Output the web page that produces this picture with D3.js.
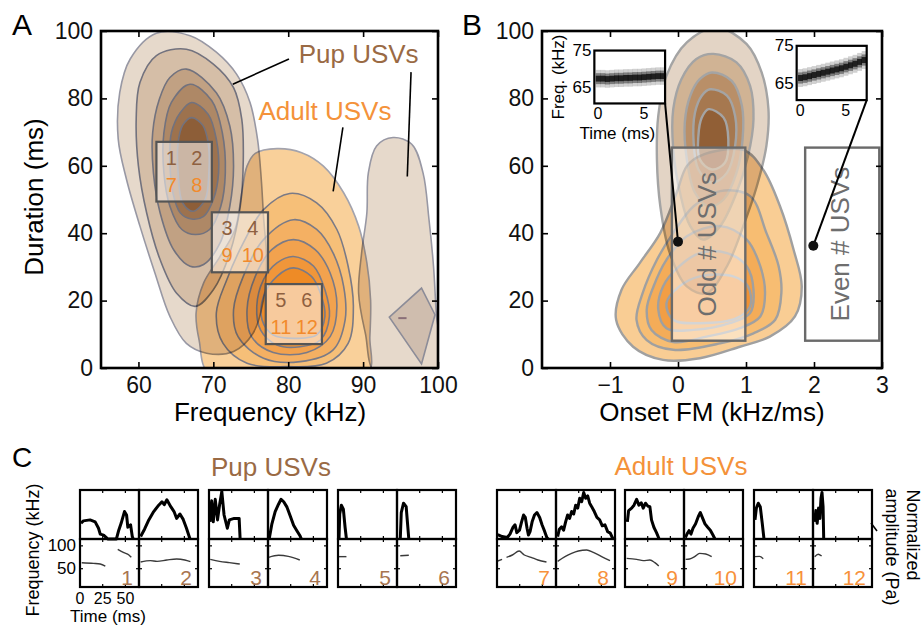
<!DOCTYPE html>
<html>
<head>
<meta charset="utf-8">
<script src="https://cdn.jsdelivr.net/npm/d3@7/dist/d3.min.js"></script>
<style>
  html,body{margin:0;padding:0;background:#fff;}
  svg{display:block;font-family:"Liberation Sans",Arial,Helvetica,sans-serif;}
</style>
</head>
<body>
<svg id="fig" width="922" height="627"></svg>
<script>
// ================= DATA =================
// Panel A: density contours, [frequency (kHz), duration (ms)], outermost level first
const pupContoursA = [
  [[62.4,99.3],[66.9,98.6],[70.4,93.7],[73.1,87.2],[74.9,78.8],[75.9,67.9],[76.4,56.0],[76.7,45.0],[77.1,32.1],[76.7,20.2],[75.3,10.3],[72.7,4.9],[69.1,4.4],[66.4,7.3],[64.2,15.3],[62.2,28.2],[60.2,42.1],[58.4,56.0],[57.3,67.9],[57.5,81.7],[58.9,91.7]],
  [[62.4,92.7],[66.4,94.6],[70.0,90.2],[72.7,83.2],[73.8,73.8],[74.0,61.9],[73.6,48.0],[72.2,34.1],[70.0,23.2],[67.6,18.3],[65.1,22.2],[62.9,32.1],[61.1,46.0],[60.0,59.9],[59.7,73.8],[60.2,84.7]],
  [[66.4,88.7],[70.4,81.7],[72.2,71.8],[72.7,59.9],[72.2,48.0],[70.9,37.1],[68.7,30.7],[66.9,30.2],[64.7,35.1],[62.9,46.0],[62.0,57.9],[61.9,69.8],[62.8,79.8],[64.2,86.2]],
  [[66.9,84.2],[69.8,79.3],[71.2,69.8],[71.6,57.9],[71.0,48.0],[69.5,41.1],[67.6,39.6],[65.8,41.1],[64.2,48.0],[63.4,57.9],[63.4,69.8],[64.4,78.8]],
  [[67.1,78.8],[69.3,75.3],[70.4,67.9],[70.7,57.9],[70.0,50.0],[68.7,45.0],[67.1,44.2],[65.6,46.0],[64.6,52.0],[64.2,61.9],[64.4,69.8],[65.6,75.8]],
  [[67.1,74.3],[68.6,72.0],[69.3,66.9],[69.4,57.9],[68.9,50.0],[67.3,46.5],[65.9,49.0],[65.3,57.9],[65.3,66.9],[65.9,72.0]]
];
const pupSideLobeA = [[94.0,68.4],[96.5,66.4],[98.0,57.9],[98.8,44.0],[99.4,30.2],[99.8,15.3],[100.5,-2],[91.8,-2],[90.3,10.3],[89.4,22.2],[89.8,34.1],[90.5,46.0],[90.7,57.9],[91.8,65.9]];
const pupDiamondA = [[97.8,23.7],[99.6,15.8],[97.8,1.2],[93.5,15.1]];
const pupSpotA = [[94.7,14.8],[95.8,14.8]];
const adultContoursA = [
  [[75.6,63.7],[78.5,65.1],[81.8,63.9],[84.7,59.9],[87.4,52.0],[89.4,42.1],[90.5,31.2],[91.0,20.2],[90.9,9.3],[90.5,-2],[69.6,-2],[68.1,8.3],[67.7,16.3],[68.7,25.2],[70.9,33.1],[72.9,41.1],[73.8,52.0],[74.5,59.9]],
  [[80.2,51.8],[83.8,49.0],[86.5,41.1],[88.0,30.2],[88.7,18.3],[88.0,7.3],[85.1,1.4],[79.8,0.4],[74.5,1.4],[71.3,7.3],[70.4,16.3],[71.8,26.2],[74.0,37.1],[76.7,47.0]],
  [[80.7,44.0],[83.8,41.1],[86.0,34.1],[87.4,24.2],[87.6,14.3],[86.0,5.4],[81.6,1.9],[76.7,2.9],[73.3,9.3],[72.7,17.3],[74.0,27.2],[76.7,38.1]],
  [[80.7,38.1],[83.6,35.1],[85.6,28.2],[86.5,18.3],[85.6,9.3],[82.5,4.6],[78.0,4.6],[75.1,9.3],[74.5,17.3],[75.6,27.2],[77.8,35.1]],
  [[80.7,33.1],[83.4,30.2],[84.9,23.2],[85.5,15.3],[84.3,8.3],[81.6,6.3],[78.5,6.8],[76.3,11.3],[75.8,18.3],[76.7,26.2],[78.5,31.2]],
  [[80.7,29.7],[83.1,27.2],[84.3,22.2],[84.9,15.3],[83.8,9.8],[81.1,8.8],[78.0,9.8],[76.5,14.3],[76.7,21.2],[78.5,27.2]]
];
// example-call selection boxes in A: frequency / duration extents and call numbers
const boxesA = [
  {f0:62.4, f1:69.8, d0:49.4, d1:67.1, pup:["1","2"], adult:["7","8"]},
  {f0:69.8, f1:77.3, d0:28.4, d1:46.2, pup:["3","4"], adult:["9","10"]},
  {f0:77.0, f1:84.5, d0:7.1,  d1:24.9, pup:["5","6"], adult:["11","12"]}
];
const labelsA = [
  {text:"Pup USVs",   f:89.4, d:90.6, who:"pup"},
  {text:"Adult USVs", f:84.9, d:73.6, who:"adult"}
];
const calloutsA = [
  [[80.1,91.7],[72.6,84.2]],
  [[96.4,87.8],[95.9,56.8]],
  [[87.3,71.4],[86.0,52.4]]
];
const xTicksA = [60,70,80,90,100];
const yTicks  = [0,20,40,60,80,100];

// Panel B: density contours, [onset FM (kHz/ms), duration (ms)]
const pupContoursB = [
  [[0.57,101],[1.01,96.1],[1.23,87.7],[1.33,76.8],[1.30,65.9],[1.16,54.0],[0.96,42.1],[0.72,30.2],[0.42,22.2],[0.13,24.2],[-0.12,34.1],[-0.26,48.0],[-0.31,61.9],[-0.29,74.8],[-0.17,86.7],[0.13,96.6]],
  [[0.52,93.2],[0.86,90.7],[1.06,83.7],[1.11,73.8],[1.03,62.9],[0.86,52.0],[0.62,42.1],[0.37,38.1],[0.18,42.1],[0.03,52.0],[-0.07,64.9],[-0.07,76.8],[0.05,85.7],[0.27,91.7]],
  [[0.50,87.7],[0.79,85.2],[0.94,77.8],[0.95,67.9],[0.86,57.9],[0.67,50.0],[0.45,48.0],[0.25,52.0],[0.13,61.9],[0.10,72.8],[0.18,80.8],[0.32,85.7]],
  [[0.47,82.7],[0.72,80.8],[0.84,74.8],[0.84,65.9],[0.72,57.9],[0.50,55.0],[0.30,58.9],[0.23,66.9],[0.25,75.8],[0.35,80.8]],
  [[0.45,76.8],[0.67,74.3],[0.74,67.9],[0.69,60.9],[0.50,58.9],[0.32,61.9],[0.30,68.9],[0.35,74.3]]
];
const adultContoursB = [
  [[0.32,62.9],[0.96,64.7],[1.25,58.9],[1.50,48.0],[1.70,35.1],[1.82,24.2],[1.72,15.3],[1.35,9.3],[0.91,6.3],[0.32,2.9],[-0.22,2.4],[-0.66,6.3],[-0.91,14.3],[-0.83,23.2],[-0.56,31.2],[-0.26,40.1],[-0.02,52.0],[0.13,59.9]],
  [[0.62,52.5],[1.06,51.0],[1.30,40.1],[1.48,30.2],[1.52,22.2],[1.43,14.3],[1.11,10.3],[0.62,7.3],[-0.07,5.4],[-0.46,8.3],[-0.61,14.3],[-0.52,22.2],[-0.31,32.1],[-0.07,40.1],[0.23,48.0]],
  [[0.62,42.1],[1.01,38.1],[1.21,30.2],[1.28,22.2],[1.21,15.3],[0.91,11.8],[0.42,9.3],[-0.07,7.7],[-0.39,11.3],[-0.46,17.3],[-0.36,24.2],[-0.17,32.1],[0.13,39.1]],
  [[0.72,34.1],[1.01,30.2],[1.11,23.2],[1.06,16.3],[0.76,13.3],[0.23,11.3],[-0.17,11.8],[-0.29,17.3],[-0.22,24.2],[0.02,30.2],[0.32,34.1]],
  [[0.81,27.2],[1.03,24.2],[1.06,18.3],[0.86,14.8],[0.32,13.3],[-0.07,14.3],[-0.17,19.2],[0.02,24.2],[0.32,27.2]]
];
const xTicksB = [-1,0,1,2,3];
const groupBoxesB = [
  {text:"Odd # USVs",  fm0:-0.09, fm1:0.99, d0:8.1, d1:65.4, dot:[0.0,37.5],  inset:{fm0:-1.23, fm1:-0.19, d0:78.5, d1:94.2}, axisTitles:true},
  {text:"Even # USVs", fm0:1.87,  fm1:2.96, d0:8.1, d1:65.4, dot:[1.99,36.3], inset:{fm0:1.745, fm1:2.775, d0:79.5, d1:95.6}, axisTitles:false}
];
// inset spectrogram ridges: time (ms) and peak frequency (kHz)
const insetTime     = [0,0.5,1,1.5,2,2.5,3,3.5,4,4.5,5,5.5,6,6.5,7];
const insetFreqOdd  = [67.3,67.3,67.2,67.3,67.4,67.4,67.5,67.5,67.6,67.6,67.7,67.8,67.9,68.0,68.0];
const insetFreqEven = [66.4,66.6,66.9,67.2,67.5,67.8,68.1,68.4,68.7,69.0,69.4,69.8,70.2,70.7,71.2];
const insetFreqTicks = [65,75];
const insetTimeTicks = [0,5];

// Panel C: example calls. amp = [time ms, normalized amplitude]; freq = segments of [time ms, kHz]
const pupCalls = [
  {n:"1", amp:[[1.1,0.32],[3.7,0.37],[11.1,0.39],[16.7,0.35],[20.4,0.22],[22.3,0.10],[26.0,0.08],[29.0,0.03],[30.5,0],[40.1,0],[42.7,0.18],[45.3,0.32],[49.0,0.56],[51.3,0.49],[52.7,0.24],[55.7,0.29],[57.6,0.05],[58.7,0]],
   freq:[[[1.9,63.2],[14.9,61.7],[22.3,60.3],[27.9,55.9]],[[41.6,92.4],[48.3,85.1],[53.9,80.0],[56.5,74.9]]]},
  {n:"2", amp:[[1.8,0.05],[6.1,0.20],[10.8,0.39],[16.2,0.56],[21.7,0.69],[25.3,0.76],[27.8,0.70],[30.7,0.80],[35.0,0.66],[38.6,0.56],[41.5,0.42],[45.1,0.51],[48.7,0.40],[52.3,0.22],[56.0,0.01]],
   freq:[[[1.8,64.7],[12.6,67.6],[19.9,66.1],[30.7,69.1],[41.5,71.3],[50.5,69.1],[56.7,65.4]]]},
  {n:"3", amp:[[1.1,0.35],[2.9,0.78],[4.7,0.35],[6.9,0.81],[9.4,0.39],[11.6,0.69],[14.1,0.97],[16.6,0.49],[20.2,0.22],[22.4,0.39],[27.8,0.42],[33.2,0.42],[34.3,0]],
   freq:[[[1.4,70.5],[11.6,66.1],[22.4,63.2],[33.9,60.3]]]},
  {n:"4", amp:[[1.4,0.01],[4.3,0.31],[7.9,0.56],[11.6,0.71],[14.4,0.81],[17.3,0.76],[20.9,0.65],[24.5,0.47],[28.2,0.28],[31.8,0.17],[35.4,0.06],[36.8,0]],
   freq:[[[0.7,74.9],[11.6,79.3],[22.4,77.1],[35.0,69.1]]]},
  {n:"5", amp:[[1.1,0],[1.9,0.51],[3.7,0.69],[5.9,0.61],[7.8,0.24],[9.3,0]],
   freq:[[[1.1,76.4],[9.3,76.4]]]},
  {n:"6", amp:[[3.6,0],[4.7,0.54],[7.2,0.73],[10.1,0.66],[11.6,0.32],[13.0,0]],
   freq:[[[3.6,78.5],[13.0,79.5]]]}
];
const adultCalls = [
  {n:"7", amp:[[0.8,0.09],[5.6,0.05],[11.3,0.03],[14.3,0.10],[17.7,0.24],[19.9,0.29],[21.8,0.13],[24.8,0.18],[27.1,0.35],[29.3,0.49],[31.2,0.44],[33.1,0.22],[34.6,0.08],[36.4,0.15],[38.7,0.35],[41.3,0.49],[44.0,0.54],[47.0,0.44],[49.6,0.29],[52.6,0.15],[54.9,0.03],[56.4,0]],
   freq:[[[0.8,66.9],[5.6,70.5]],[[10.5,74.9],[16.9,80.0],[24.4,88.8],[30.1,80.0],[37.6,74.9],[45.1,69.1],[54.5,64.7]]]},
  {n:"8", amp:[[1.8,0.05],[3.7,0.20],[6.2,0.25],[8.4,0.18],[10.6,0.35],[12.8,0.49],[15.0,0.42],[17.2,0.56],[19.5,0.51],[21.7,0.69],[23.9,0.63],[26.1,0.83],[28.3,0.76],[30.5,0.95],[32.7,0.83],[34.9,0.88],[37.1,0.73],[39.3,0.66],[42.2,0.56],[45.1,0.44],[48.1,0.39],[51.0,0.27],[53.9,0.29],[56.9,0.15],[59.8,0.12],[62.8,0]],
   freq:[[[1.8,66.1],[9.9,76.4],[17.2,83.6],[24.6,88.8],[33.8,90.9],[41.1,85.8],[50.3,76.4],[59.5,67.6]]]},
  {n:"9", amp:[[2.6,0.35],[4.0,0.58],[7.3,0.63],[9.9,0.69],[12.8,0.81],[15.3,0.69],[17.9,0.74],[20.1,0.63],[22.6,0.73],[25.2,0.67],[27.4,0.66],[29.2,0.39],[31.8,0.24],[34.7,0.13],[37.6,0]],
   freq:[[[1.8,72.7],[12.8,70.5],[20.1,67.6],[27.4,69.1],[32.9,63.2],[37.2,56.0]]]},
  {n:"10", amp:[[1.5,0.03],[3.3,0.10],[5.5,0.17],[7.7,0.10],[9.9,0.22],[12.8,0.31],[15.8,0.46],[18.0,0.54],[20.6,0.42],[23.1,0.31],[26.1,0.24],[29.0,0.18],[31.9,0.08],[34.1,0]],
   freq:[[[1.8,70.5],[6.2,71.3],[11.7,76.4],[17.2,83.6],[23.9,82.1],[30.5,76.4]]]},
  {n:"11", amp:[[1.1,0.39],[2.6,0.63],[4.7,0.73],[6.9,0.66],[9.1,0.32],[11.0,0]],
   freq:[[[1.1,76.4],[6.0,77.0],[10.2,72.0]]]},
  {n:"12", amp:[[1.9,0.35],[3.1,0.58],[4.6,0.32],[6.1,0.63],[7.6,0.42],[8.8,0.83],[9.9,0.95],[11.1,0.66],[11.8,0]],
   freq:[[[1.9,76.4],[5.7,81.5],[9.5,77.8]]]}
];
const timeTicksC = [0,25,50];
const freqTicksC = [50,100];

// ================= STYLE =================
const PUP_TEXT = "#9a6a44", ADULT_TEXT = "#f4923a";
const pupFillA   = ["#e6d9cb","#d5bea7","#c1a183","#ae8866","#9d724e","#8d5e38"];
const adultFillA = ["#f9d09a","#f6bf78","#f4b063","#f2a24e","#f0963a","#ee8b26"];
const pupFillB   = ["#e3d4c5","#d0b394","#b98f68","#a6784f","#915f36"];
const adultFillB = ["#f9cd94","#f7bd72","#f4ac58","#f29e45","#f09133"];

const svg = d3.select("#fig");
const curveSmooth = d3.curveCatmullRomClosed.alpha(0.5);

function contourPaths(g, levels, fills, x, y, stroke, sw, firstStroke) {
  const gen = d3.line().x(d => x(d[0])).y(d => y(d[1])).curve(curveSmooth);
  g.selectAll(null).data(levels).join("path")
    .attr("d", gen)
    .attr("fill", (d, i) => fills[i])
    .attr("stroke", (d, i) => i === 0 && firstStroke ? firstStroke : stroke)
    .attr("stroke-width", sw)
    .attr("stroke-linejoin", "round");
}

function axesFrame(g, x, y, xTicks, yTicks) {
  const [x0, x1] = x.range(), [yb, yt] = y.range();
  const fmt = d3.format("");
  const style = sel => {
    sel.select(".domain").remove();
    sel.selectAll(".tick line").attr("stroke", "#000").attr("stroke-width", 1.6);
    sel.selectAll(".tick text").attr("font-size", 23).attr("fill", "#111")
       .attr("font-family", "Liberation Sans, Arial, sans-serif");
  };
  g.append("g").attr("transform", `translate(0,${yb})`)
    .call(d3.axisBottom(x).tickValues(xTicks).tickSize(-6).tickPadding(9).tickFormat(fmt)).call(style);
  g.append("g").attr("transform", `translate(0,${yt})`)
    .call(d3.axisTop(x).tickValues(xTicks).tickSize(-6).tickFormat("")).call(style);
  g.append("g").attr("transform", `translate(${x0},0)`)
    .call(d3.axisLeft(y).tickValues(yTicks).tickSize(-6).tickPadding(8).tickFormat(fmt)).call(style);
  g.append("g").attr("transform", `translate(${x1},0)`)
    .call(d3.axisRight(y).tickValues(yTicks).tickSize(-6).tickFormat("")).call(style);
  g.append("rect").attr("x", x0).attr("y", yt).attr("width", x1 - x0).attr("height", yb - yt)
    .attr("fill", "none").attr("stroke", "#000").attr("stroke-width", 2.6);
}

// ================= PANEL A =================
const xA = d3.scaleLinear().domain([55, 100]).range([101, 438]);
const yA = d3.scaleLinear().domain([0, 100]).range([368, 31]);
const gA = svg.append("g").style("isolation", "isolate");
gA.append("clipPath").attr("id", "clipA").append("rect")
  .attr("x", 101).attr("y", 31).attr("width", 337).attr("height", 337);
const plotA = gA.append("g").attr("clip-path", "url(#clipA)");
const adultA = plotA.append("g");
contourPaths(adultA, adultContoursA, adultFillA, xA, yA, "#7a7a86", 1.6, "#a3a3ad");
const pupA = plotA.append("g").style("mix-blend-mode", "multiply");
contourPaths(pupA, [pupSideLobeA], [pupFillA[0]], xA, yA, "#9898a4", 1.6);
pupA.append("path")
  .attr("d", d3.line().x(d => xA(d[0])).y(d => yA(d[1])).curve(d3.curveLinearClosed)(pupDiamondA))
  .attr("fill", "#cfbdae").attr("stroke", "#8c8c98").attr("stroke-width", 1.6);
pupA.append("path")
  .attr("d", d3.line().x(d => xA(d[0])).y(d => yA(d[1]))(pupSpotA))
  .attr("stroke", "#8a6f78").attr("stroke-width", 2);
contourPaths(pupA, pupContoursA, pupFillA, xA, yA, "#72727e", 1.6, "#9898a4");

// selection boxes with call numbers
boxesA.forEach(b => {
  const bx0 = xA(b.f0), bx1 = xA(b.f1), by0 = yA(b.d1), by1 = yA(b.d0);
  gA.append("rect").attr("x", bx0).attr("y", by0).attr("width", bx1 - bx0).attr("height", by1 - by0)
    .attr("fill", "#fff").attr("fill-opacity", 0.55).attr("stroke", "#555").attr("stroke-width", 2.2);
  const cols = [bx0 + 0.27 * (bx1 - bx0), bx0 + 0.73 * (bx1 - bx0)];
  b.pup.forEach((t, i) => gA.append("text").attr("x", cols[i]).attr("y", by0 + 23)
    .attr("text-anchor", "middle").attr("font-size", 20).attr("fill", "#8e6040").text(t));
  b.adult.forEach((t, i) => gA.append("text").attr("x", cols[i]).attr("y", by1 - 10)
    .attr("text-anchor", "middle").attr("font-size", 20).attr("fill", "#f28a2c").text(t));
});
calloutsA.forEach(c => gA.append("path")
  .attr("d", d3.line().x(d => xA(d[0])).y(d => yA(d[1]))(c))
  .attr("stroke", "#000").attr("stroke-width", 1.6));
labelsA.forEach(l => gA.append("text").attr("x", xA(l.f)).attr("y", yA(l.d))
  .attr("text-anchor", "middle").attr("font-size", 26)
  .attr("fill", l.who === "pup" ? PUP_TEXT : ADULT_TEXT).text(l.text));
axesFrame(gA, xA, yA, xTicksA, yTicks);
gA.append("text").attr("transform", "translate(34,197) rotate(-90)")
  .attr("text-anchor", "middle").attr("dominant-baseline", "central").attr("font-size", 26).text("Duration (ms)");
gA.append("text").attr("x", 270).attr("y", 421).attr("text-anchor", "middle").attr("font-size", 26).text("Frequency (kHz)");
svg.append("text").attr("x", 12).attr("y", 35).attr("font-size", 30).text("A");

// ================= PANEL B =================
const xB = d3.scaleLinear().domain([-2, 3]).range([542, 882]);
const yB = d3.scaleLinear().domain([0, 100]).range([368, 31]);
const gB = svg.append("g").style("isolation", "isolate");
gB.append("clipPath").attr("id", "clipB").append("rect")
  .attr("x", 542).attr("y", 31).attr("width", 340).attr("height", 337);
const plotB = gB.append("g").attr("clip-path", "url(#clipB)");
contourPaths(plotB.append("g"), adultContoursB, adultFillB, xB, yB, "#a0a0a0", 2.4);
contourPaths(plotB.append("g").style("mix-blend-mode", "multiply"), pupContoursB, pupFillB, xB, yB, "#a4a4a4", 2.4);

groupBoxesB.forEach(b => {
  const bx0 = xB(b.fm0), bx1 = xB(b.fm1), by0 = yB(b.d1), by1 = yB(b.d0);
  gB.append("rect").attr("x", bx0).attr("y", by0).attr("width", bx1 - bx0).attr("height", by1 - by0)
    .attr("fill", "#fff").attr("fill-opacity", 0.55).attr("stroke", "#6a6a6a").attr("stroke-width", 2.4);
  gB.append("text").attr("transform", `translate(${(bx0 + bx1) / 2 - 2},${(by0 + by1) / 2}) rotate(-90)`)
    .attr("text-anchor", "middle").attr("dominant-baseline", "central")
    .attr("font-size", 26).attr("fill", "#6e6e6e").text(b.text);
});

function drawInset(b, ridge) {
  const s = b.inset;
  const px0 = xB(s.fm0), px1 = xB(s.fm1), py0 = yB(s.d1), py1 = yB(s.d0);
  const tx = d3.scaleLinear().domain([-0.4, 7.3]).range([px0, px1]);
  const fy = d3.scaleLinear().domain([60.5, 75]).range([py1, py0]);
  // connector from example point to the inset corner
  gB.append("line").attr("x1", xB(b.dot[0])).attr("y1", yB(b.dot[1]))
    .attr("x2", px1).attr("y2", py1).attr("stroke", "#000").attr("stroke-width", 2);
  gB.append("circle").attr("cx", xB(b.dot[0])).attr("cy", yB(b.dot[1])).attr("r", 5).attr("fill", "#111");
  const gi = gB.append("g");
  gi.append("rect").attr("x", px0).attr("y", py0).attr("width", px1 - px0).attr("height", py1 - py0).attr("fill", "#fff");
  const pix = [[2.4, 0.18], [1.5, 0.4], [0.8, 0.75]];
  pix.forEach(([hw, op]) => {
    gi.selectAll(null).data(insetTime).join("rect")
      .attr("x", t => tx(t - 0.25)).attr("width", t => tx(t + 0.25) - tx(t - 0.25) + 0.3)
      .attr("y", (t, i) => fy(ridge[i] + hw)).attr("height", (t, i) => fy(ridge[i] - hw) - fy(ridge[i] + hw))
      .attr("fill", "#000").attr("fill-opacity", op);
  });
  gi.append("rect").attr("x", px0).attr("y", py0).attr("width", px1 - px0).attr("height", py1 - py0)
    .attr("fill", "none").attr("stroke", "#000").attr("stroke-width", 2.2);
  insetFreqTicks.forEach(f => gi.append("text").attr("x", px0 - 3).attr("y", fy(f))
    .attr("text-anchor", "end").attr("dominant-baseline", "central").attr("font-size", 17).text(f));
  insetTimeTicks.forEach(t => gi.append("text").attr("x", tx(t)).attr("y", py1 + 16)
    .attr("text-anchor", "middle").attr("font-size", 16).text(t));
  if (b.axisTitles) {
    gi.append("text").attr("transform", `translate(${px0 - 36},${(py0 + py1) / 2}) rotate(-90)`)
      .attr("text-anchor", "middle").attr("dominant-baseline", "central").attr("font-size", 17).text("Freq. (kHz)");
    gi.append("text").attr("x", px0 + 23).attr("y", py1 + 36).attr("text-anchor", "middle")
      .attr("font-size", 17).text("Time (ms)");
  }
}
drawInset(groupBoxesB[0], insetFreqOdd);
drawInset(groupBoxesB[1], insetFreqEven);
axesFrame(gB, xB, yB, xTicksB, yTicks);
gB.append("text").attr("x", 712).attr("y", 421).attr("text-anchor", "middle").attr("font-size", 26).text("Onset FM (kHz/ms)");
svg.append("text").attr("x", 462).attr("y", 35).attr("font-size", 30).text("B");

// ================= PANEL C =================
const rowTop = 490, rowMid = 539, rowBot = 587, panelW = 59;
const groupLeft = [80, 209, 338, 497, 625, 754];
const ampY  = d3.scaleLinear().domain([0, 1]).range([rowMid, rowTop]);
const freqY = d3.scaleLinear().domain([10, 115]).range([rowBot, rowMid]);
const calls = pupCalls.map(c => ({...c, who:"pup"})).concat(adultCalls.map(c => ({...c, who:"adult"})));
const gC = svg.append("g");
calls.forEach((c, k) => {
  const x0 = groupLeft[Math.floor(k / 2)] + (k % 2) * panelW;
  const tx = d3.scaleLinear().domain([0, 65]).range([x0, x0 + panelW]);
  const g = gC.append("g");
  g.append("path").attr("d", d3.line().x(d => tx(d[0])).y(d => ampY(d[1]))(c.amp))
    .attr("fill", "none").attr("stroke", "#000").attr("stroke-width", 3).attr("stroke-linejoin", "round");
  c.freq.forEach(seg => g.append("path")
    .attr("d", d3.line().x(d => tx(d[0])).y(d => freqY(d[1])).curve(d3.curveMonotoneX)(seg))
    .attr("fill", "none").attr("stroke", "#3a3a3a").attr("stroke-width", 1.4));
  // small inward ticks
  timeTicksC.slice(1).forEach(t => {
    [[rowTop, 3], [rowMid, -3], [rowMid, 3], [rowBot, -3]].forEach(([yy, dl]) =>
      g.append("line").attr("x1", tx(t)).attr("x2", tx(t)).attr("y1", yy).attr("y2", yy + dl)
        .attr("stroke", "#000").attr("stroke-width", 1.2));
  });
  freqTicksC.forEach(f => {
    [[x0, 3], [x0 + panelW, -3]].forEach(([xx, dl]) =>
      g.append("line").attr("x1", xx).attr("x2", xx + dl).attr("y1", freqY(f)).attr("y2", freqY(f))
        .attr("stroke", "#000").attr("stroke-width", 1.2));
  });
  g.append("rect").attr("x", x0).attr("y", rowTop).attr("width", panelW).attr("height", rowMid - rowTop)
    .attr("fill", "none").attr("stroke", "#000").attr("stroke-width", 2.2);
  g.append("rect").attr("x", x0).attr("y", rowMid).attr("width", panelW).attr("height", rowBot - rowMid)
    .attr("fill", "none").attr("stroke", "#000").attr("stroke-width", 2.2);
  g.append("text").attr("x", x0 + panelW - 6).attr("y", rowBot - 2).attr("text-anchor", "end")
    .attr("font-size", 21).attr("fill", c.who === "pup" ? "#a87550" : "#f7913a").text(c.n);
  if (k === 0) {
    timeTicksC.forEach(t => g.append("text").attr("x", tx(t)).attr("y", rowBot + 17)
      .attr("text-anchor", "middle").attr("font-size", 16).text(t));
    freqTicksC.forEach(f => g.append("text").attr("x", x0 - 4).attr("y", freqY(f))
      .attr("text-anchor", "end").attr("dominant-baseline", "central").attr("font-size", 17).text(f));
  }
});
gC.append("text").attr("x", 271).attr("y", 476).attr("text-anchor", "middle").attr("font-size", 26).attr("fill", PUP_TEXT).text("Pup USVs");
gC.append("text").attr("x", 681).attr("y", 475).attr("text-anchor", "middle").attr("font-size", 26).attr("fill", ADULT_TEXT).text("Adult USVs");
gC.append("text").attr("transform", "translate(33,550) rotate(-90)").attr("text-anchor", "middle")
  .attr("dominant-baseline", "central").attr("font-size", 18).text("Frequency (kHz)");
gC.append("text").attr("x", 108).attr("y", 622).attr("text-anchor", "middle").attr("font-size", 17).text("Time (ms)");
gC.append("text").attr("transform", "translate(913,535) rotate(90)").attr("text-anchor", "middle")
  .attr("dominant-baseline", "central").attr("font-size", 18).text("Normalized");
gC.append("text").attr("transform", "translate(892,547) rotate(90)").attr("text-anchor", "middle")
  .attr("dominant-baseline", "central").attr("font-size", 18).text("amplitude (Pa)");
gC.append("line").attr("x1", 871).attr("y1", 523).attr("x2", 877).attr("y2", 531).attr("stroke", "#000").attr("stroke-width", 1.5);
svg.append("text").attr("x", 12).attr("y", 467).attr("font-size", 28).text("C");
</script>
</body>
</html>
